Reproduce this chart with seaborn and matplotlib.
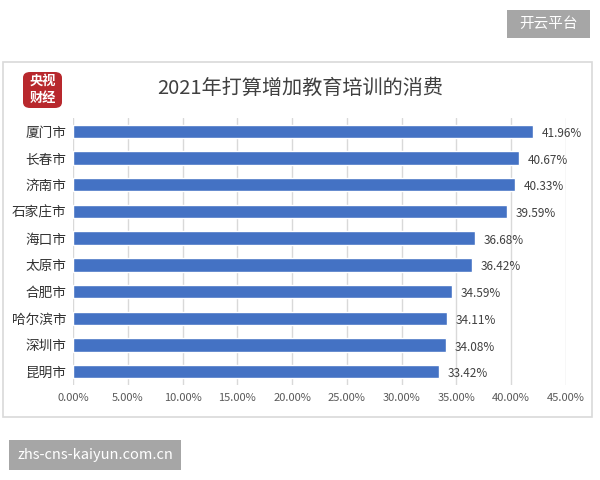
import matplotlib
matplotlib.use("Agg")
import matplotlib.pyplot as plt
import seaborn as sns
import pandas as pd
from matplotlib.patches import Rectangle, FancyBboxPatch

cities = ["厦门市", "长春市", "济南市", "石家庄市", "海口市", "太原市", "合肥市", "哈尔滨市", "深圳市", "昆明市"]
values = [41.96, 40.67, 40.33, 39.59, 36.68, 36.42, 34.59, 34.11, 34.08, 33.42]
xticks = [0, 5, 10, 15, 20, 25, 30, 35, 40, 45]
title = "2021年打算增加教育培训的消费"

sns.set_theme(style="white")
plt.rcParams['font.family'] = ['Noto Sans CJK SC', 'DejaVu Sans']

df = pd.DataFrame({"city": cities, "value": values})

fig = plt.figure(figsize=(6, 4.8), dpi=100)
W, H = 600, 480
def fx(x): return x / W
def fy(y): return 1 - y / H

# chart border
fig.patches.append(Rectangle((fx(3), fy(417)), fx(592) - fx(3), fy(62) - fy(417),
                             transform=fig.transFigure, fill=False, edgecolor="#d9d9d9", lw=1.2))

ax = fig.add_axes([fx(73), fy(385), fx(566) - fx(73), fy(118) - fy(385)])
sns.barplot(data=df, x="value", y="city", orient="h", color="#4472C4", saturation=1,
            width=0.5, ax=ax)
ax.set_xlim(0, 45)
ax.set_xticks(xticks)
ax.set_xticklabels([f"{t:.2f}%" for t in xticks], fontsize=8, color="#595959")
ax.tick_params(axis="y", labelsize=9.8, colors="#333333", length=0, pad=5)
ax.tick_params(axis="x", length=0, pad=6)
ax.set_xlabel("")
ax.set_ylabel("")
ax.grid(axis="x", color="#d9d9d9", lw=1)
ax.set_axisbelow(True)
for s in ax.spines.values():
    s.set_visible(False)

for i, v in enumerate(values):
    ax.text(v + 0.8, i + 0.08, f"{v:.2f}%", va="center", ha="left", fontsize=8.5, color="#404040")

fig.text(0.5, fy(88), title, ha="center", va="center", fontsize=14.5, color="#404040")

# logo
fig.patches.append(FancyBboxPatch((fx(23), fy(108)), fx(62) - fx(23), fy(72) - fy(108),
                                  boxstyle="round,pad=0,rounding_size=0.012",
                                  transform=fig.transFigure, facecolor="#b8282d", edgecolor="none"))
fig.text(fx(42.5), fy(81), "央视", ha="center", va="center", fontsize=9.5, color="white", fontweight="bold")
fig.text(fx(42.5), fy(98), "财经", ha="center", va="center", fontsize=9.5, color="white", fontweight="bold")

# watermarks
fig.patches.append(Rectangle((fx(507), fy(38)), fx(590) - fx(507), fy(10) - fy(38),
                             transform=fig.transFigure, facecolor="#a6a6a6", edgecolor="none"))
fig.text(fx(548.5), fy(24), "开云平台", ha="center", va="center", fontsize=10.5, color="white")
fig.patches.append(Rectangle((fx(9), fy(470)), fx(181) - fx(9), fy(440) - fy(470),
                             transform=fig.transFigure, facecolor="#a6a6a6", edgecolor="none"))
fig.text(fx(95), fy(455), "zhs-cns-kaiyun.com.cn", ha="center", va="center", fontsize=10.5, color="white")

fig.savefig("out.png", dpi=100)
